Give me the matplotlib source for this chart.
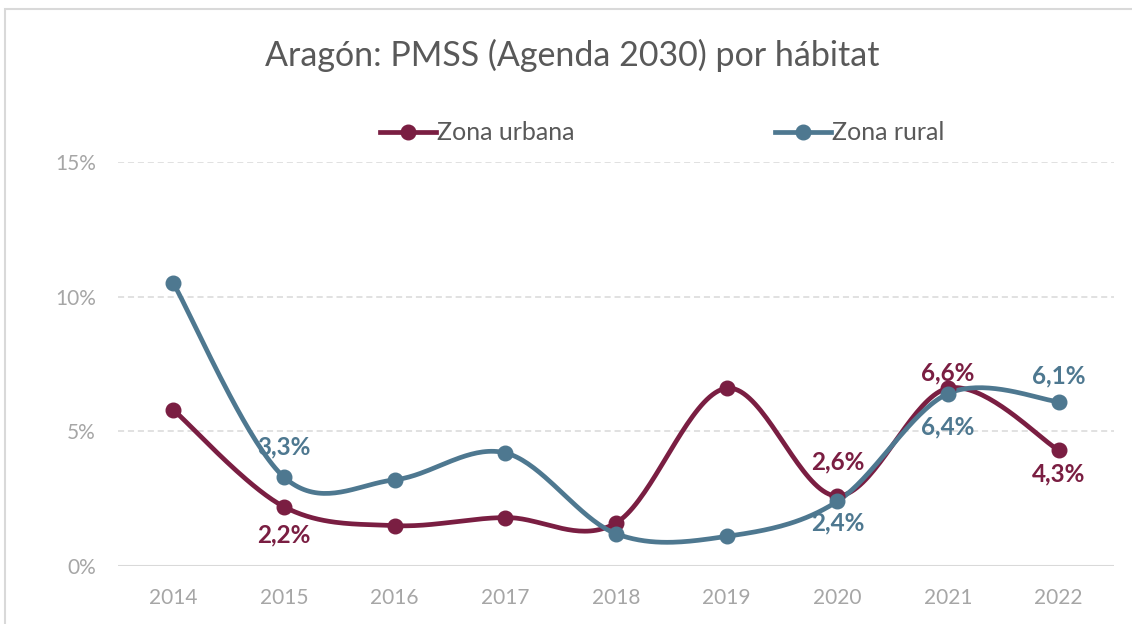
import numpy as np
import matplotlib
matplotlib.use("Agg")
import matplotlib.pyplot as plt
from matplotlib.lines import Line2D
from matplotlib.patches import Rectangle

# data
years = ["2014", "2015", "2016", "2017", "2018", "2019", "2020", "2021", "2022"]
urbana = [5.8, 2.2, 1.5, 1.8, 1.6, 6.6, 2.6, 6.6, 4.3]
rural = [10.5, 3.3, 3.2, 4.2, 1.2, 1.1, 2.4, 6.4, 6.1]

# labelled points: (index, text, offset in pixels, + = below)
labels_urbana = [(1, "2,2%", 28), (6, "2,6%", -34), (7, "6,6%", -15), (8, "4,3%", 24)]
labels_rural = [(1, "3,3%", -30), (6, "2,4%", 22), (7, "6,4%", 33), (8, "6,1%", -26)]

c_urb = "#7A1E42"
c_rur = "#4E7890"
grey_txt = "#595959"
plt.rcParams['font.family'] = ['Lato', 'DejaVu Sans']


def smooth(y, n=40):
    # excel-like smoothed line (catmull-rom bezier)
    x = np.arange(len(y), dtype=float)
    y = np.asarray(y, dtype=float)
    P = np.column_stack([x, y])
    P = np.vstack([P[0], P, P[-1]])
    out = []
    t = np.linspace(0, 1, n)[:, None]
    for i in range(1, len(P) - 2):
        p0, p1, p2, p3 = P[i - 1], P[i], P[i + 1], P[i + 2]
        c1 = p1 + (p2 - p0) / 6
        c2 = p2 - (p3 - p1) / 6
        seg = ((1 - t) ** 3) * p1 + 3 * ((1 - t) ** 2) * t * c1 + 3 * (1 - t) * t ** 2 * c2 + t ** 3 * p2
        out.append(seg)
    out = np.vstack(out)
    return out[:, 0], out[:, 1]


fig = plt.figure(figsize=(11.32, 6.24), dpi=100)
ax = fig.add_axes([118 / 1132, 1 - 566 / 624, (1114 - 118) / 1132, (566 - 162) / 624])

fig.patches.append(Rectangle((5 / 1132, -0.05), 1.2, 1 - 9 / 624 + 0.05, transform=fig.transFigure,
                             fill=False, edgecolor="#D9D9D9", lw=1.5, zorder=0))

for v in [5, 10, 15]:
    ax.axhline(v, color="#D9D9D9", lw=1.1, ls=(0, (4, 2.5)), zorder=1)
ax.axhline(0, color="#D9D9D9", lw=2.2, zorder=1)

x = np.arange(len(years))
for vals, col in [(urbana, c_urb), (rural, c_rur)]:
    sx, sy = smooth(vals)
    ax.plot(sx, sy, color=col, lw=3.4, solid_capstyle="round", zorder=3)
    ax.plot(x, vals, "o", color=col, ms=10.5, zorder=4)

for vals, labs, col in [(urbana, labels_urbana, c_urb), (rural, labels_rural, c_rur)]:
    for i, txt, off in labs:
        ax.annotate(txt, (x[i], vals[i]), xytext=(0, -off * 0.72), textcoords="offset points",
                    ha="center", va="center", color=col, fontsize=17.5, fontweight="bold", zorder=5)

ax.set_xlim(-0.5, len(years) - 0.5)
ax.set_ylim(0, 15)
ax.set_xticks(x)
ax.set_xticklabels(years)
ax.set_yticks([0, 5, 10, 15])
ax.set_yticklabels(["0%", "5%", "10%", "15%"])
ax.tick_params(length=0, labelsize=15, labelcolor="#A6A6A6")
ax.tick_params(axis="x", pad=16)
ax.tick_params(axis="y", pad=16)
for s in ax.spines.values():
    s.set_visible(False)

fig.text(572 / 1132, 1 - 55 / 624, "Aragón: PMSS (Agenda 2030) por hábitat", ha="center", va="center",
         fontsize=24.5, color=grey_txt)

handles = [Line2D([], [], color=c_urb, lw=3.4, marker="o", ms=10.5),
           Line2D([], [], color=c_rur, lw=3.4, marker="o", ms=10.5)]
fig.legend(handles, ["Zona urbana", "Zona rural"], loc="center", bbox_to_anchor=(662 / 1132, 1 - 133 / 624),
           ncol=2, frameon=False, fontsize=18, labelcolor=grey_txt, handlelength=2.25, handletextpad=0.05,
           columnspacing=8.0)

fig.savefig("out.png", dpi=100)
